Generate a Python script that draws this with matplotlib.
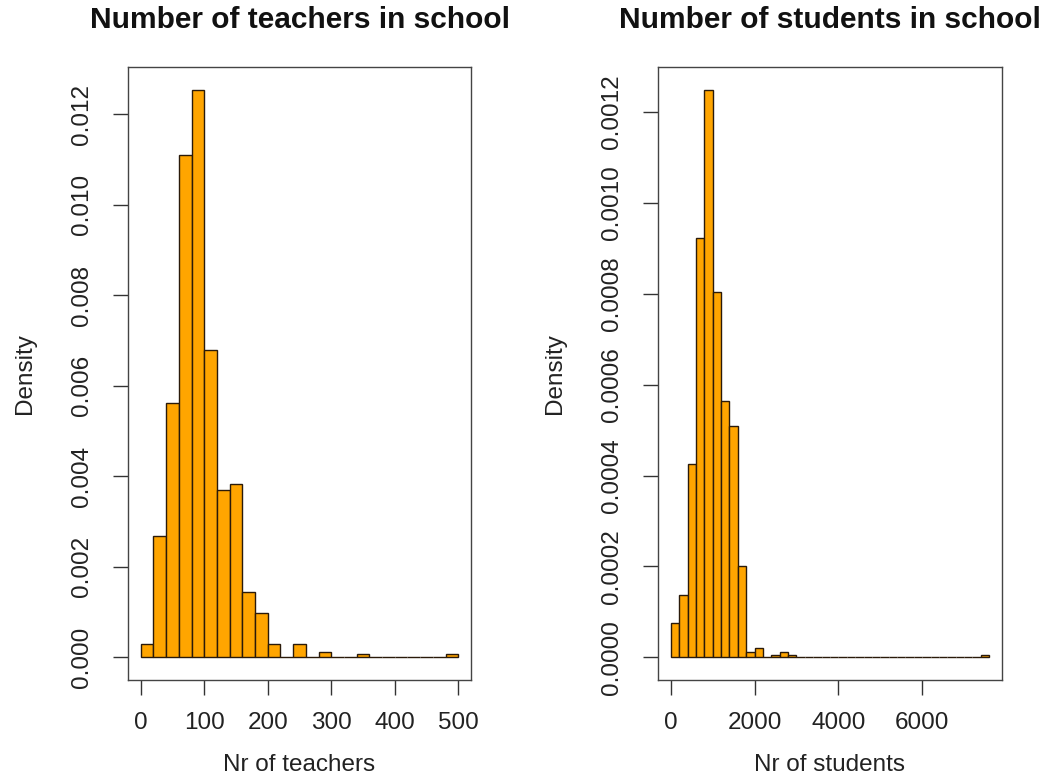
import numpy as np
import matplotlib
matplotlib.use("Agg")
import matplotlib.pyplot as plt

# histogram densities
teacher_width = 20
teacher_density = [0.00029, 0.00268, 0.00561, 0.01110, 0.01254, 0.00678, 0.00369,
                   0.00383, 0.00145, 0.00098, 0.00029, 0.0, 0.00029, 0.0, 0.00012,
                   0.0, 0.0, 0.00007, 0.0, 0.0, 0.0, 0.0, 0.0, 0.0, 0.00007]
teacher_ticks = [0, 100, 200, 300, 400, 500]
teacher_yticks = [0.000, 0.002, 0.004, 0.006, 0.008, 0.010, 0.012]

student_width = 200
student_density = [0.000075, 0.000138, 0.000425, 0.000922, 0.001249, 0.000804,
                   0.000565, 0.000509, 0.000201, 0.0000122, 0.0000201, 0.0,
                   0.0000061, 0.0000122, 0.0000061] + [0.0] * 22 + [0.0000061]
student_ticks = [0, 2000, 4000, 6000]
student_yticks = [0.0000, 0.0002, 0.0004, 0.0006, 0.0008, 0.0010, 0.0012]

plt.rcParams['font.family'] = ['Liberation Sans', 'DejaVu Sans']
txt = '#222222'

fig = plt.figure(figsize=(10.53, 7.78), dpi=100)
ax1 = fig.add_axes([128/1053, 1-680/778, 343/1053, 613/778])
ax2 = fig.add_axes([658/1053, 1-680/778, 344/1053, 613/778])


def draw(ax, width, dens, xt, yt, yfmt, title, xlabel):
    dens = np.array(dens)
    left = np.arange(len(dens)) * width
    ax.bar(left, dens, width=width, align='edge', color='#FFA500',
           edgecolor='#2a1a0a', linewidth=1.0)
    xmax = len(dens) * width
    ax.set_xlim(-0.04 * xmax, 1.04 * xmax)
    top = dens.max()
    ax.set_ylim(-0.04 * top, 1.04 * top)
    ax.set_xticks(xt)
    ax.set_xticklabels([str(v) for v in xt])
    ax.set_yticks(yt)
    ax.set_yticklabels([yfmt.format(v) for v in yt], rotation=90, va='center')
    ax.tick_params(direction='out', length=11, width=1.0, colors='#333333',
                   labelsize=17.5, labelcolor=txt)
    ax.tick_params(axis='x', pad=12)
    ax.tick_params(axis='y', pad=14)
    for s in ax.spines.values():
        s.set_color('#444444')
        s.set_linewidth(1.0)
    ax.set_xlabel(xlabel, fontsize=17.5, color=txt, va='center')
    ax.xaxis.set_label_coords(0.5, -0.139)
    ax.set_ylabel('Density', fontsize=17.5, color=txt, va='center')
    ax.yaxis.set_label_coords(-0.30, 0.5)
    cx = ax.get_position().x0 + ax.get_position().width / 2
    fig.text(cx, 1 - 20/778, title, ha='center', va='center',
             fontsize=21.5, fontweight='bold', color='#111111')


draw(ax1, teacher_width, teacher_density, teacher_ticks, teacher_yticks,
     '{:.3f}', 'Number of teachers in school', 'Nr of teachers')
draw(ax2, student_width, student_density, student_ticks, student_yticks,
     '{:.4f}', 'Number of students in school', 'Nr of students')

fig.savefig('out.png', dpi=100)
